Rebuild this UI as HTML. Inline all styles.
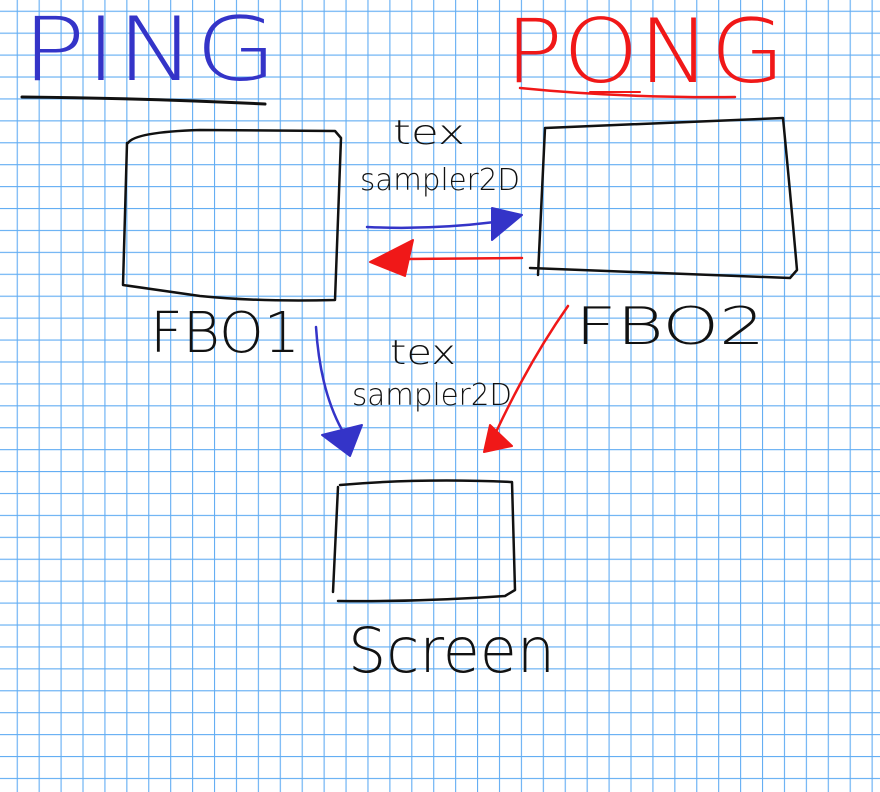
<!DOCTYPE html>
<html><head><meta charset="utf-8"><style>
html,body{margin:0;padding:0;background:#fff;}
svg{display:block;}
</style></head><body>
<svg width="880" height="792" viewBox="0 0 880 792" xmlns="http://www.w3.org/2000/svg">
<defs>
<pattern id="g" x="16.7" y="10.7" width="21.92" height="21.92" patternUnits="userSpaceOnUse">
<path d="M0 0 H21.92 M0 0 V21.92" stroke="#62adf3" stroke-width="2.2" fill="none"/>
</pattern>
</defs>
<rect width="880" height="792" fill="#fff"/>
<rect width="880" height="792" fill="url(#g)"/>

<g font-family="'DejaVu Sans','Liberation Sans',sans-serif" font-weight="200">
<text x="22" y="80" font-size="88" fill="#3434c8" textLength="255" lengthAdjust="spacingAndGlyphs">PING</text>
<text x="505" y="82" font-size="88" fill="#f01818" textLength="280" lengthAdjust="spacingAndGlyphs">PONG</text>
</g>

<g fill="none" stroke-linecap="round" stroke-linejoin="round">
<!-- underlines -->
<path d="M22 97 Q140 98 265 104" stroke="#111" stroke-width="3"/>
<path d="M520 88 Q620 98 735 97" stroke="#f01818" stroke-width="2.5"/>
<path d="M590 92 L640 92" stroke="#f01818" stroke-width="2"/>

<!-- FBO1 box -->
<path d="M128 143 Q135 132 200 130 L335 131 L341 138 L335 300 Q260 302 200 296 L123 285 L127 143" stroke="#111" stroke-width="2.5"/>
<!-- FBO2 box -->
<path d="M545 128 L783 118 Q790 190 797 270 L790 278 L530 268 M545 128 L538 275" stroke="#111" stroke-width="2.5"/>
<!-- Screen box -->
<path d="M340 485 Q420 478 512 482 L515 590 L505 596 Q420 602 338 601 M338 487 L333 592" stroke="#111" stroke-width="2.5"/>

<!-- horizontal arrows -->
<path d="M367 227 Q430 230 495 222" stroke="#3434c8" stroke-width="2.5"/>
<path d="M492 208 L522 215 L492 240 Z" stroke="#3434c8" stroke-width="2" fill="#3434c8"/>
<path d="M522 258 L405 259" stroke="#f01818" stroke-width="2.5"/>
<path d="M370 262 L413 240 L405 276 Z" stroke="#f01818" stroke-width="2" fill="#f01818"/>

<!-- down arrows -->
<path d="M316 327 Q320 390 342 430" stroke="#3434c8" stroke-width="2.5"/>
<path d="M322 435 L362 425 L350 456 Z" stroke="#3434c8" stroke-width="2" fill="#3434c8"/>
<path d="M568 306 Q530 360 497 430" stroke="#f01818" stroke-width="2.5"/>
<path d="M490 425 L512 446 L484 452 Z" stroke="#f01818" stroke-width="2" fill="#f01818"/>
</g>

<g font-family="'DejaVu Sans','Liberation Sans',sans-serif" font-weight="200" fill="#111">
<text x="393" y="144" font-size="34" textLength="72" lengthAdjust="spacingAndGlyphs">tex</text>
<text x="360" y="190" font-size="30" textLength="160" lengthAdjust="spacingAndGlyphs">sampler2D</text>
<text x="390" y="364" font-size="34" textLength="66" lengthAdjust="spacingAndGlyphs">tex</text>
<text x="352" y="405" font-size="30" textLength="160" lengthAdjust="spacingAndGlyphs">sampler2D</text>
<text x="150" y="352" font-size="56" textLength="150" lengthAdjust="spacingAndGlyphs">FBO1</text>
<text x="575" y="344" font-size="52" textLength="190" lengthAdjust="spacingAndGlyphs">FBO2</text>
<text x="348" y="672" font-size="62" textLength="207" lengthAdjust="spacingAndGlyphs">Screen</text>
</g>
</svg>
</body></html>
